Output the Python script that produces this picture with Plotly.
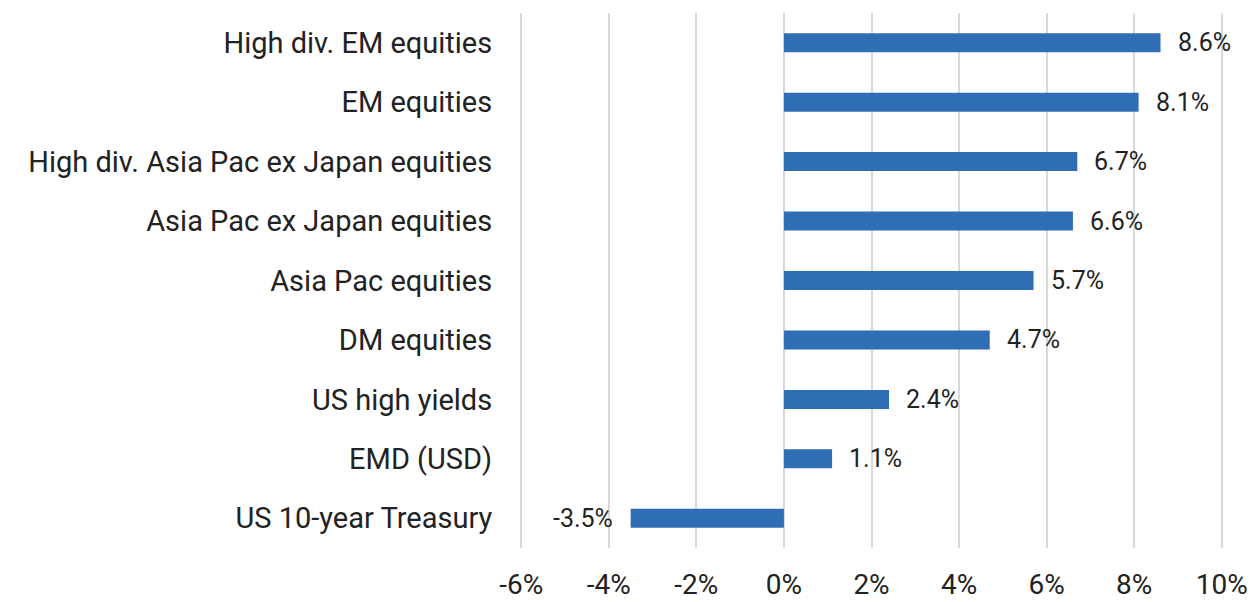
import plotly.graph_objects as go

categories = [
    "High div. EM equities",
    "EM equities",
    "High div. Asia Pac ex Japan equities",
    "Asia Pac ex Japan equities",
    "Asia Pac equities",
    "DM equities",
    "US high yields",
    "EMD (USD)",
    "US 10-year Treasury",
]
values = [8.6, 8.1, 6.7, 6.6, 5.7, 4.7, 2.4, 1.1, -3.5]
tick_vals = [-6, -4, -2, 0, 2, 4, 6, 8, 10]
tick_text = ["-6%", "-4%", "-2%", "0%", "2%", "4%", "6%", "8%", "10%"]

BAR = "#2F6EB5"
TXT = "#222222"

fig = go.Figure()
fig.add_trace(go.Bar(
    x=values, y=categories, orientation="h",
    marker=dict(color=BAR, line=dict(width=0)),
    width=0.32,
    hoverinfo="skip",
))

for c, v in zip(categories, values):
    fig.add_annotation(
        x=v, y=c, text=f"{v:.1f}%", showarrow=False,
        xanchor="left" if v >= 0 else "right",
        xshift=15 if v >= 0 else -16,
        font=dict(family="Roboto", size=25, color=TXT),
    )

fig.update_layout(
    width=1256, height=602,
    margin=dict(l=519, r=32, t=13, b=54, autoexpand=False),
    paper_bgcolor="white", plot_bgcolor="white",
    showlegend=False,
    font=dict(family="Roboto", color=TXT),
    bargap=0.68,
)
fig.update_xaxes(
    range=[-6.05, 10.05], tickvals=tick_vals, ticktext=tick_text,
    showgrid=True, gridcolor="#d9d9d9", gridwidth=2,
    zeroline=True, zerolinecolor="#d9d9d9", zerolinewidth=2,
    showline=False, automargin=False,
    ticks="outside", ticklen=11, tickcolor="rgba(0,0,0,0)",
    tickfont=dict(family="Roboto", size=28, color=TXT),
    fixedrange=True,
)
fig.update_yaxes(
    categoryorder="array", categoryarray=categories[::-1],
    showgrid=False, zeroline=False, showline=False, automargin=False,
    ticks="outside", ticklen=20, tickcolor="rgba(0,0,0,0)",
    tickfont=dict(family="Roboto", size=29, color=TXT),
    fixedrange=True,
)

fig.write_html(
    "out.html",
    config={"displayModeBar": False},
    post_script="document.body.style.margin='0px';document.body.style.overflow='hidden';",
)
